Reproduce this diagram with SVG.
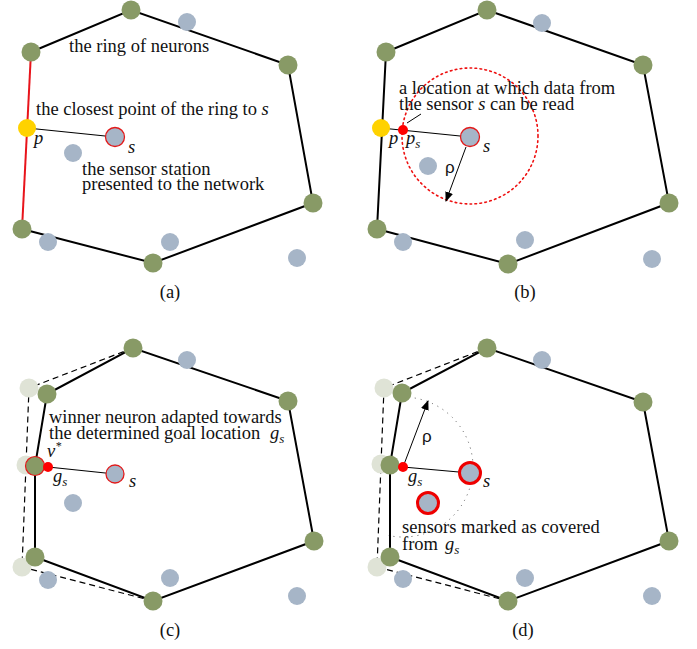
<svg xmlns="http://www.w3.org/2000/svg" width="697" height="649" viewBox="0 0 697 649">
<defs>
<style>
.ring{stroke:#000;stroke-width:2;fill:none}
.redring{stroke:#e8141b;stroke-width:2;fill:none}
.old{stroke:#000;stroke-width:1.2;stroke-dasharray:6 4;fill:none}
.link{stroke:#000;stroke-width:1.2;fill:none}
.thin{stroke:#000;stroke-width:1;fill:none}
.neuron{fill:#889a66}
.faded{fill:#dfe3d6}
.sensor{fill:#a6b5c7}
.sel{fill:#a6b5c7;stroke:#e21a1a;stroke-width:1.3}
.cov{fill:#a6b5c7;stroke:#ee0000;stroke-width:3}
.win{fill:#889a66;stroke:#e21a1a;stroke-width:1.2}
.yellow{fill:#ffd200}
.goal{fill:#ff0000}
.rcirc{fill:none;stroke:#ee1111;stroke-width:1.6;stroke-dasharray:1.6 3.4;stroke-linecap:round}
.garc{fill:none;stroke:#555;stroke-width:1;stroke-dasharray:1 5}
.t{font-family:"Liberation Serif","Times New Roman",serif;font-size:18.5px;fill:#111}
.i{font-style:italic}
.sub{font-size:13px}
.rho{font-family:"Liberation Sans",Arial,sans-serif;font-size:17px;fill:#111}
</style>
<marker id="arr" markerUnits="userSpaceOnUse" markerWidth="10" markerHeight="8" refX="9" refY="4" orient="auto">
<path d="M0,0 L10,4 L0,8 z" fill="#000"/>
</marker>
</defs>
<rect width="697" height="649" fill="#fff"/>

<g id="connectors">
<!-- panel a -->
<polyline class="ring" points="22,229 153,263 313,203 288,65 131,10 31,52"/>
<line class="redring" x1="31" y1="52" x2="22" y2="229"/>
<line class="link" x1="27" y1="128" x2="115" y2="137"/>
<!-- panel b -->
<polygon class="ring" points="377,229 508,264 669,203 643,65 487,10 386,52"/>
<line class="link" x1="381" y1="128" x2="470" y2="137"/>
<circle class="rcirc" cx="470" cy="136" r="68"/>
<line class="thin" x1="407" y1="123" x2="421" y2="114"/>
<line class="thin" x1="466" y1="147" x2="446" y2="201" marker-end="url(#arr)"/>
<!-- panel c -->
<polyline class="old" points="133,348 29,388 26,465 22,567 153,601"/>
<polygon class="ring" points="35,557 153,601 314,541 288,401 133,348 47,394 35,466"/>
<line class="link" x1="48" y1="467" x2="115" y2="474"/>
<!-- panel d -->
<polyline class="old" points="487,348 384,388 381,464 377,567 508,601"/>
<polygon class="ring" points="390,557 508,601 669,541 643,402 487,348 402,393 390,465"/>
<path class="garc" d="M396.9,397.3 A70,70 0 1 1 388.4,535.5"/>
<line class="link" x1="403" y1="467" x2="470" y2="473"/>
<line class="thin" x1="403" y1="467" x2="428" y2="401" marker-end="url(#arr)"/>
</g>

<g id="panel-a">
<g id="a-sensors">
<circle class="sensor" cx="187" cy="22" r="9"/>
<circle class="sensor" cx="73" cy="153" r="9"/>
<circle class="sensor" cx="48" cy="242" r="9"/>
<circle class="sensor" cx="170" cy="242" r="9"/>
<circle class="sensor" cx="297" cy="258" r="9"/>
</g>
<g id="a-neurons">
<circle class="neuron" cx="131" cy="10" r="9.5"/>
<circle class="neuron" cx="288" cy="65" r="9.5"/>
<circle class="neuron" cx="313" cy="203" r="9.5"/>
<circle class="neuron" cx="153" cy="263" r="9.5"/>
<circle class="neuron" cx="22" cy="229" r="9.5"/>
<circle class="neuron" cx="31" cy="52" r="9.5"/>
</g>
<g id="a-p"><circle class="yellow" cx="27" cy="128" r="9"/></g>
<g id="a-s"><circle class="sel" cx="115" cy="137" r="9.5"/></g>
<text class="t" x="69" y="52">the ring of neurons</text>
<text class="t" x="36" y="115">the closest point of the ring to <tspan class="i">s</tspan></text>
<text class="t i" x="34" y="144">p</text>
<text class="t i" x="128" y="153">s</text>
<text class="t" x="82" y="175">the sensor station</text>
<text class="t" x="82" y="190">presented to the network</text>
<text class="t" x="170" y="298" text-anchor="middle">(a)</text>
</g>

<g id="panel-b">
<g id="b-sensors">
<circle class="sensor" cx="542" cy="23" r="9"/>
<circle class="sensor" cx="428" cy="166" r="9"/>
<circle class="sensor" cx="403" cy="242" r="9"/>
<circle class="sensor" cx="525" cy="240" r="9"/>
<circle class="sensor" cx="652" cy="259" r="9"/>
</g>
<g id="b-neurons">
<circle class="neuron" cx="487" cy="10" r="9.5"/>
<circle class="neuron" cx="643" cy="65" r="9.5"/>
<circle class="neuron" cx="669" cy="203" r="9.5"/>
<circle class="neuron" cx="508" cy="264" r="9.5"/>
<circle class="neuron" cx="377" cy="229" r="9.5"/>
<circle class="neuron" cx="386" cy="52" r="9.5"/>
</g>
<g id="b-p"><circle class="yellow" cx="381" cy="128" r="9"/></g>
<g id="b-ps"><circle class="goal" cx="403" cy="130" r="5"/></g>
<g id="b-s"><circle class="sel" cx="470" cy="137" r="9.5"/></g>
<text class="t" x="399" y="94">a location at which data from</text>
<text class="t" x="399" y="110">the sensor <tspan class="i">s</tspan> can be read</text>
<text class="t i" x="389" y="144">p</text>
<text class="t i" x="406" y="144">p<tspan class="sub" dy="4">s</tspan></text>
<text class="t i" x="483" y="152">s</text>
<text class="rho" x="445" y="173">ρ</text>
<text class="t" x="525" y="298" text-anchor="middle">(b)</text>
</g>

<g id="panel-c">
<g id="c-old">
<circle class="faded" cx="29" cy="388" r="9.5"/>
<circle class="faded" cx="26" cy="465" r="9.5"/>
<circle class="faded" cx="22" cy="567" r="9.5"/>
</g>
<g id="c-sensors">
<circle class="sensor" cx="187" cy="360" r="9"/>
<circle class="sensor" cx="73" cy="503" r="9"/>
<circle class="sensor" cx="48" cy="580" r="9"/>
<circle class="sensor" cx="170" cy="578" r="9"/>
<circle class="sensor" cx="297" cy="596" r="9"/>
</g>
<g id="c-neurons">
<circle class="neuron" cx="133" cy="348" r="9.5"/>
<circle class="neuron" cx="288" cy="401" r="9.5"/>
<circle class="neuron" cx="314" cy="541" r="9.5"/>
<circle class="neuron" cx="153" cy="601" r="9.5"/>
<circle class="neuron" cx="35" cy="557" r="9.5"/>
<circle class="neuron" cx="47" cy="394" r="9.5"/>
</g>
<g id="c-winner"><circle class="win" cx="35" cy="466" r="9.5"/></g>
<g id="c-gs"><circle class="goal" cx="48" cy="467" r="5"/></g>
<g id="c-s"><circle class="sel" cx="115" cy="474" r="9"/></g>
<text class="t" x="49" y="423">winner neuron adapted towards</text>
<text class="t" x="49" y="439">the determined goal location</text>
<text class="t i" x="270" y="439">g<tspan class="sub" dy="4">s</tspan></text>
<text class="t i" x="47" y="457">ν<tspan font-size="12" dy="-7">*</tspan></text>
<text class="t i" x="53" y="482">g<tspan class="sub" dy="4">s</tspan></text>
<text class="t i" x="129" y="487">s</text>
<text class="t" x="170" y="636" text-anchor="middle">(c)</text>
</g>

<g id="panel-d">
<g id="d-old">
<circle class="faded" cx="384" cy="388" r="9.5"/>
<circle class="faded" cx="381" cy="464" r="9.5"/>
<circle class="faded" cx="377" cy="567" r="9.5"/>
</g>
<g id="d-sensors">
<circle class="sensor" cx="542" cy="360" r="9"/>
<circle class="sensor" cx="403" cy="579" r="9"/>
<circle class="sensor" cx="525" cy="578" r="9"/>
<circle class="sensor" cx="652" cy="596" r="9"/>
</g>
<g id="d-neurons">
<circle class="neuron" cx="487" cy="348" r="9.5"/>
<circle class="neuron" cx="643" cy="402" r="9.5"/>
<circle class="neuron" cx="669" cy="541" r="9.5"/>
<circle class="neuron" cx="508" cy="601" r="9.5"/>
<circle class="neuron" cx="390" cy="557" r="9.5"/>
<circle class="neuron" cx="402" cy="393" r="9.5"/>
<circle class="neuron" cx="390" cy="465" r="9.5"/>
</g>
<g id="d-gs"><circle class="goal" cx="403" cy="467" r="5"/></g>
<g id="d-covered">
<circle class="cov" cx="470" cy="473" r="10.5"/>
<circle class="cov" cx="428" cy="503" r="10.5"/>
</g>
<text class="rho" x="422" y="442">ρ</text>
<text class="t i" x="408" y="482">g<tspan class="sub" dy="4">s</tspan></text>
<text class="t i" x="483" y="487">s</text>
<text class="t" x="402" y="533">sensors marked as covered</text>
<text class="t" x="402" y="550">from</text>
<text class="t i" x="445" y="550">g<tspan class="sub" dy="4">s</tspan></text>
<text class="t" x="523" y="636" text-anchor="middle">(d)</text>
</g>
</svg>
